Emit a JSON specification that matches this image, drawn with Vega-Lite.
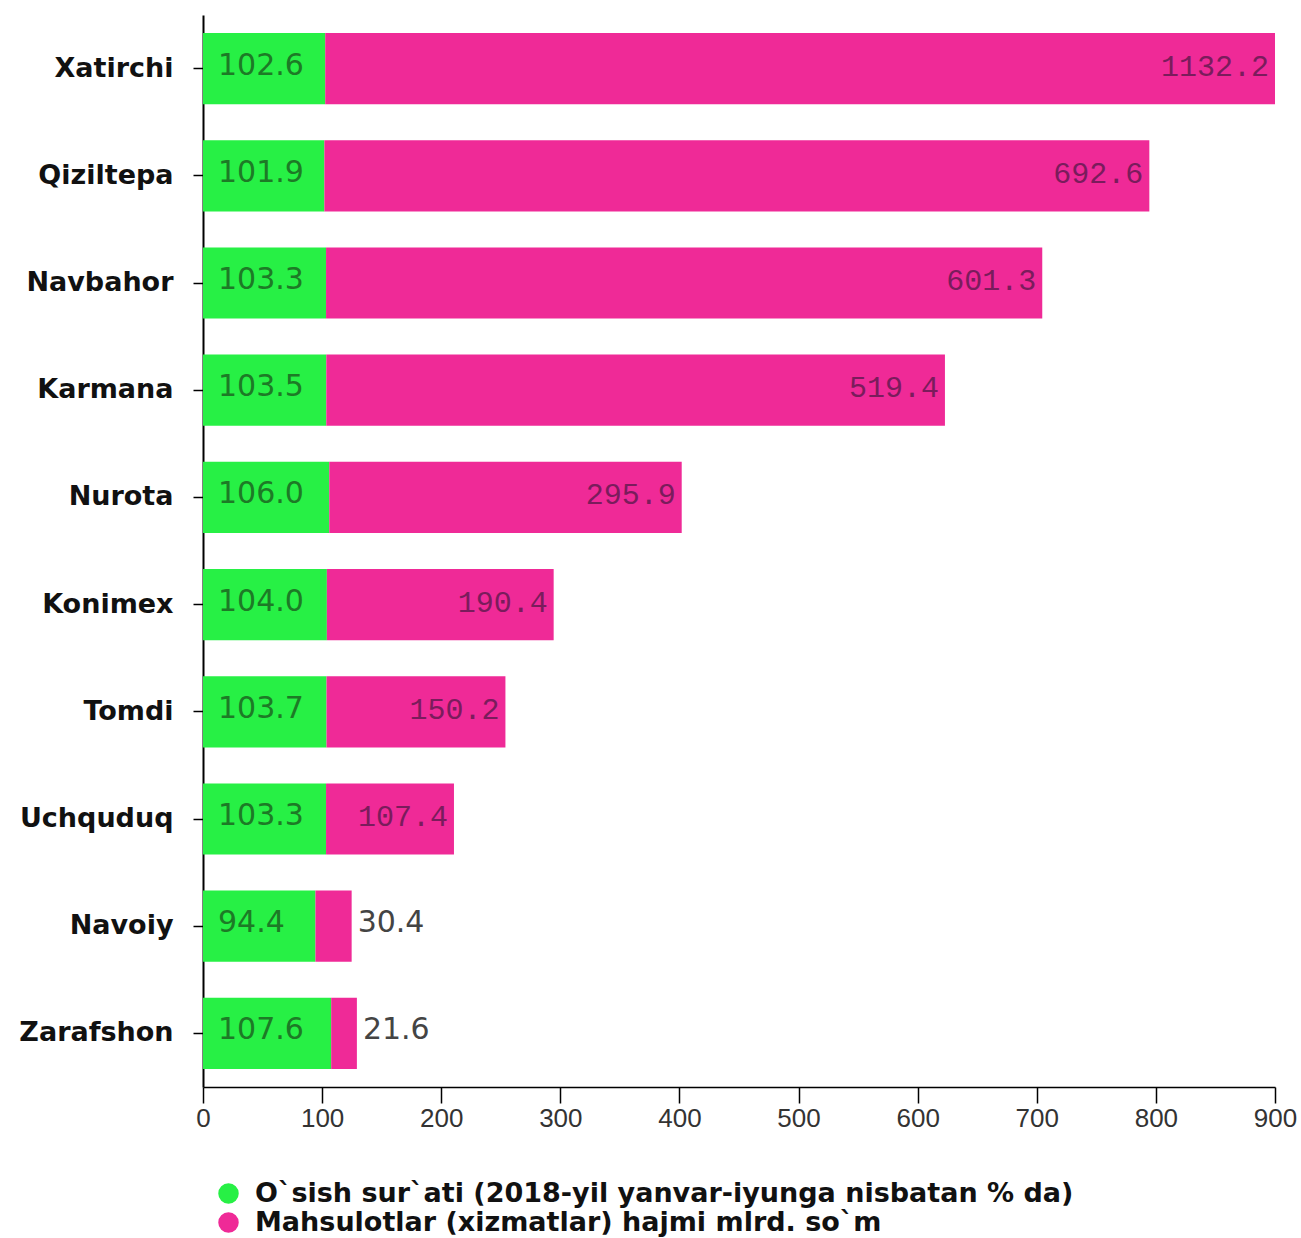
{
  "$schema": "https://vega.github.io/schema/vega-lite/v6.json",
  "width": 1072,
  "height": 1072,
  "autosize": {"type": "none"},
  "padding": {"left": 203, "top": 15, "right": 26, "bottom": 151},
  "background": "white",
  "config": {"view": {"stroke": null}},
  "data": {
    "values": [
      {"district": "Xatirchi", "series": "O`sish sur`ati (2018-yil yanvar-iyunga nisbatan % da)", "k": 1, "value": 102.6},
      {"district": "Xatirchi", "series": "Mahsulotlar (xizmatlar) hajmi mlrd. so`m", "k": 2, "value": 1132.2},
      {"district": "Qiziltepa", "series": "O`sish sur`ati (2018-yil yanvar-iyunga nisbatan % da)", "k": 1, "value": 101.9},
      {"district": "Qiziltepa", "series": "Mahsulotlar (xizmatlar) hajmi mlrd. so`m", "k": 2, "value": 692.6},
      {"district": "Navbahor", "series": "O`sish sur`ati (2018-yil yanvar-iyunga nisbatan % da)", "k": 1, "value": 103.3},
      {"district": "Navbahor", "series": "Mahsulotlar (xizmatlar) hajmi mlrd. so`m", "k": 2, "value": 601.3},
      {"district": "Karmana", "series": "O`sish sur`ati (2018-yil yanvar-iyunga nisbatan % da)", "k": 1, "value": 103.5},
      {"district": "Karmana", "series": "Mahsulotlar (xizmatlar) hajmi mlrd. so`m", "k": 2, "value": 519.4},
      {"district": "Nurota", "series": "O`sish sur`ati (2018-yil yanvar-iyunga nisbatan % da)", "k": 1, "value": 106.0},
      {"district": "Nurota", "series": "Mahsulotlar (xizmatlar) hajmi mlrd. so`m", "k": 2, "value": 295.9},
      {"district": "Konimex", "series": "O`sish sur`ati (2018-yil yanvar-iyunga nisbatan % da)", "k": 1, "value": 104.0},
      {"district": "Konimex", "series": "Mahsulotlar (xizmatlar) hajmi mlrd. so`m", "k": 2, "value": 190.4},
      {"district": "Tomdi", "series": "O`sish sur`ati (2018-yil yanvar-iyunga nisbatan % da)", "k": 1, "value": 103.7},
      {"district": "Tomdi", "series": "Mahsulotlar (xizmatlar) hajmi mlrd. so`m", "k": 2, "value": 150.2},
      {"district": "Uchquduq", "series": "O`sish sur`ati (2018-yil yanvar-iyunga nisbatan % da)", "k": 1, "value": 103.3},
      {"district": "Uchquduq", "series": "Mahsulotlar (xizmatlar) hajmi mlrd. so`m", "k": 2, "value": 107.4},
      {"district": "Navoiy", "series": "O`sish sur`ati (2018-yil yanvar-iyunga nisbatan % da)", "k": 1, "value": 94.4},
      {"district": "Navoiy", "series": "Mahsulotlar (xizmatlar) hajmi mlrd. so`m", "k": 2, "value": 30.4},
      {"district": "Zarafshon", "series": "O`sish sur`ati (2018-yil yanvar-iyunga nisbatan % da)", "k": 1, "value": 107.6},
      {"district": "Zarafshon", "series": "Mahsulotlar (xizmatlar) hajmi mlrd. so`m", "k": 2, "value": 21.6}
    ]
  },
  "transform": [
    {"stack": "value", "groupby": ["district"], "sort": [{"field": "k", "order": "ascending"}], "as": ["v0", "v1"]}
  ],
  "encoding": {
    "y": {
      "field": "district",
      "type": "nominal",
      "sort": null,
      "scale": {"paddingInner": 0.336, "paddingOuter": 0.168},
      "axis": {
        "title": null,
        "domainColor": "#000",
        "domainWidth": 2,
        "tickColor": "#000",
        "tickWidth": 1.5,
        "tickSize": 10,
        "labelPadding": 20,
        "labelFont": "DejaVu Sans",
        "labelFontWeight": "bold",
        "labelFontSize": 27,
        "labelColor": "#111"
      }
    }
  },
  "layer": [
    {
      "mark": {"type": "bar"},
      "encoding": {
        "x": {
          "field": "v0",
          "type": "quantitative",
          "scale": {"domain": [0, 900], "clamp": true, "nice": false},
          "axis": {
            "title": null,
            "values": [0, 100, 200, 300, 400, 500, 600, 700, 800, 900],
            "grid": false,
            "domainColor": "#000",
            "domainWidth": 1.5,
            "tickColor": "#000",
            "tickWidth": 1.5,
            "tickSize": 16,
            "labelPadding": 2,
            "labelFont": "Liberation Sans",
            "labelFontSize": 26,
            "labelColor": "#333",
            "labelFlush": false
          }
        },
        "x2": {"field": "v1"},
        "color": {
          "field": "series",
          "type": "nominal",
          "sort": null,
          "scale": {
            "domain": ["O`sish sur`ati (2018-yil yanvar-iyunga nisbatan % da)", "Mahsulotlar (xizmatlar) hajmi mlrd. so`m"],
            "range": ["#27f045", "#ef2a97"]
          },
          "legend": {
            "title": null,
            "orient": "none",
            "legendX": 12,
            "legendY": 1165,
            "direction": "vertical",
            "padding": 0,
            "symbolType": "circle",
            "symbolSize": 420,
            "symbolStrokeWidth": 0,
            "labelFont": "DejaVu Sans",
            "labelFontWeight": "bold",
            "labelFontSize": 27,
            "labelColor": "#111",
            "labelOffset": 13,
            "labelLimit": 1200,
            "rowPadding": 1
          }
        }
      }
    },
    {
      "transform": [{"filter": "datum.k == 1"}],
      "mark": {"type": "text", "align": "left", "baseline": "middle", "dx": 15, "dy": -3, "font": "DejaVu Sans", "fontSize": 30, "color": "#1d7a26"},
      "encoding": {
        "x": {"datum": 0, "type": "quantitative"},
        "text": {"field": "value", "type": "quantitative", "format": ".1f"}
      }
    },
    {
      "transform": [{"filter": "datum.k == 2 && datum.value >= 50"}],
      "mark": {"type": "text", "align": "right", "baseline": "middle", "dx": -6, "dy": -2, "font": "Liberation Mono", "fontSize": 30, "color": "#7a1c5c"},
      "encoding": {
        "x": {"field": "v1", "type": "quantitative"},
        "text": {"field": "value", "type": "quantitative", "format": ".1f"}
      }
    },
    {
      "transform": [{"filter": "datum.k == 2 && datum.value < 50"}],
      "mark": {"type": "text", "align": "left", "baseline": "middle", "dx": 6, "dy": -3, "font": "DejaVu Sans", "fontSize": 30, "color": "#444"},
      "encoding": {
        "x": {"field": "v1", "type": "quantitative"},
        "text": {"field": "value", "type": "quantitative", "format": ".1f"}
      }
    }
  ]
}
